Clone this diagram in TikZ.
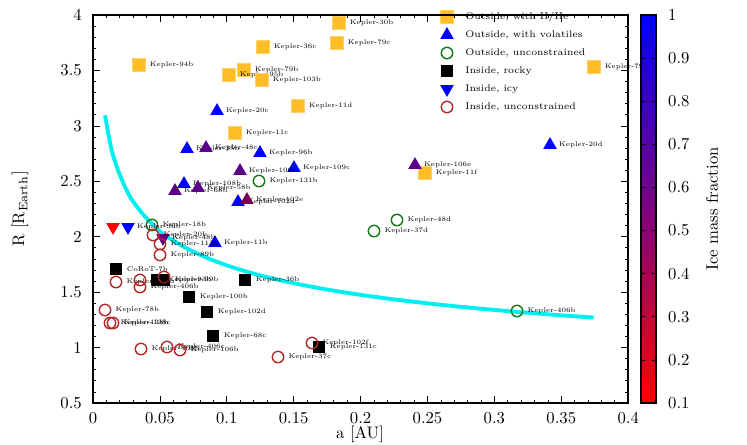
\documentclass[tikz,border=0pt]{standalone}
\usetikzlibrary{shapes.geometric}
\definecolor{hhe}{RGB}{255,190,40}
\definecolor{circr}{RGB}{180,40,40}
\definecolor{grn}{RGB}{20,120,20}
\definecolor{cyanc}{RGB}{0,240,240}
\tikzset{
 sq/.style={rectangle,fill=hhe,draw=hhe!70!white,minimum size=7.2pt,inner sep=0},
 rk/.style={rectangle,fill=black,minimum size=7.2pt,inner sep=0},
 tri/.style={regular polygon,regular polygon sides=3,fill=#1,minimum size=9pt,inner sep=0},
 itri/.style={regular polygon,regular polygon sides=3,shape border rotate=180,fill=#1,minimum size=9pt,inner sep=0},
 gc/.style={circle,draw=grn,thick,minimum size=6.5pt,inner sep=0},
 rc/.style={circle,draw=circr,thick,minimum size=6.5pt,inner sep=0},
 lab/.style={font=\fontsize{3.8}{4}\selectfont,inner sep=0,anchor=west},
 tick/.style={font=\fontsize{9.5}{11}\selectfont},
 leg/.style={font=\fontsize{5.5}{6}\selectfont,anchor=west,inner sep=0}
}
\newcommand\mk[4]{\node[#1] (#2) at (#3) {}; \node[lab] at ([xshift=2.2pt]#2.east) {#4};}
\begin{document}
\begin{tikzpicture}[x=0.02cm,y=-0.02cm]
\useasboundingbox (0,0) rectangle (747,444);
% axes ticks
\foreach \i in {0,...,40}{\pgfmathsetmacro\xx{93+13.38*\i}
  \draw (\xx,403) -- (\xx,400); \draw (\xx,15) -- (\xx,18);}
\foreach \i/\t in {0/0,1/0.05,2/0.1,3/0.15,4/0.2,5/0.25,6/0.3,7/0.35,8/0.4}{\pgfmathsetmacro\xx{93+66.9*\i}
  \draw (\xx,403) -- (\xx,396); \draw (\xx,15) -- (\xx,22);
  \node[tick] at (\xx,418) {\t};}
\foreach \i in {0,...,35}{\pgfmathsetmacro\yy{403-11.086*\i}
  \draw (93,\yy) -- (96,\yy); \draw (628,\yy) -- (625,\yy);}
\foreach \i/\t in {0/0.5,1/1,2/1.5,3/2,4/2.5,5/3,6/3.5,7/4}{\pgfmathsetmacro\yy{403-55.43*\i}
  \draw (93,\yy) -- (100,\yy); \draw (628,\yy) -- (621,\yy);
  \node[tick,anchor=east] at (88,\yy) {\t};}
\node[tick] at (360,434) {a [AU]};
\node[tick,rotate=90] at (20,209) {R [R$_{\mathrm{Earth}}$]};
% curve
\draw[cyanc,line width=2.2pt] plot[domain=0.009:0.375,samples=80,smooth] ({93+1338*\x},{403-110.86*(1.27*(\x/0.375)^(-0.239)-0.5)});
% H/He
\mk{sq}{a1}{339,23}{Kepler-30b}
\mk{sq}{a2}{337,43}{Kepler-79c}
\mk{sq}{a3}{263,47}{Kepler-36c}
\mk{sq}{a4}{139,65}{Kepler-94b}
\mk{sq}{a5}{594,67}{Kepler-79e}
\mk{sq}{a6}{244,70}{Kepler-79b}
\mk{sq}{a7}{229,75}{Kepler-95b}
\mk{sq}{a8}{262,80}{Kepler-103b}
\mk{sq}{a9}{298,106}{Kepler-11d}
\mk{sq}{a10}{235,133}{Kepler-11c}
\mk{sq}{a11}{425,173}{Kepler-11f}
% volatiles
\mk{tri=blue}{b1}{217,111}{Kepler-20c}
\mk{tri=blue}{b2}{260,153}{Kepler-96b}
\mk{tri=blue}{b3}{294,168}{Kepler-109c}
\mk{tri=blue}{b4}{550,145}{Kepler-20d}
\mk{tri=blue}{b5}{187,149}{Kepler-35b}
\mk{tri={blue!60!red!90!black}}{b6}{206,148}{Kepler-48c}
\mk{tri={blue!60!red!90!black}}{b7}{240,171}{Kepler-106c}
\mk{tri={blue!60!red!90!black}}{b8}{415,165}{Kepler-106e}
\mk{tri=blue}{b9}{184,184}{Kepler-108b}
\mk{tri={blue!60!red!90!black}}{b10}{175,191}{Kepler-68b}
\mk{tri={blue!60!red!90!black}}{b11}{198,188}{Kepler-58b}
\mk{tri=blue}{b12}{238,202}{Kepler-102d}
\mk{tri={red!60!blue!80!black}}{b13}{247,200}{Kepler-102e}
\mk{tri=blue}{b14}{215,243}{Kepler-11b}
% unconstrained outside
\mk{gc}{c1}{259,181}{Kepler-131b}
\mk{gc}{c2}{397,220}{Kepler-48d}
\mk{gc}{c3}{374,231}{Kepler-37d}
\mk{gc}{c4}{517,311}{Kepler-406b}
\mk{gc}{c5}{152,225}{Kepler-18b}
% icy inside
\mk{itri=red}{d1}{113,227}{}
\mk{itri=blue}{d2}{128,227}{Kepler-36b}
\mk{itri={blue!60!red!90!black}}{d3}{163,238}{Kepler-48b}
% rocky
\mk{rk}{e1}{116,269}{CoRoT-7b}
\mk{rk}{e2}{157,280}{Kepler-93b}
\mk{rk}{e3}{164,280}{Kepler-99b}
\mk{rk}{e4}{245,280}{Kepler-36b}
\mk{rk}{e5}{189,297}{Kepler-100b}
\mk{rk}{e6}{207,312}{Kepler-102d}
\mk{rk}{e7}{213,336}{Kepler-68c}
\mk{rk}{e8}{319,347}{Kepler-131c}
% unconstrained inside
\mk{rc}{f1}{153,235}{Kepler-20b}
\mk{rc}{f2}{160,244}{Kepler-113b}
\mk{rc}{f3}{160,255}{Kepler-89b}
\mk{rc}{f4}{164,277}{}
\mk{rc}{f5}{116,282}{Kepler-102b}
\mk{rc}{f6}{140,280}{}
\mk{rc}{f7}{140,287}{Kepler-406b}
\mk{rc}{f8}{105,310}{Kepler-78b}
\mk{rc}{f9}{110,323}{Kepler-138b}
\mk{rc}{f10}{113,323}{Kepler-138c}
\mk{rc}{f11}{141,349}{Kepler-408b}
\mk{rc}{f12}{167,347}{Kepler-406c}
\mk{rc}{f13}{180,350}{Kepler-106b}
\mk{rc}{f14}{278,357}{Kepler-37c}
\mk{rc}{f15}{312,343}{Kepler-102f}
% legend
\node[sq] (l1) at (447,17) {}; \node[leg] at (465,17) {Outside, with H/He};
\node[tri=blue] (l2) at (447,35) {}; \node[leg] at (465,35) {Outside, with volatiles};
\node[gc] (l3) at (447,53) {}; \node[leg] at (465,53) {Outside, unconstrained};
\node[rk] (l4) at (447,71) {}; \node[leg] at (465,71) {Inside, rocky};
\node[itri=blue] (l5) at (447,89) {}; \node[leg] at (465,89) {Inside, icy};
\node[rc] (l6) at (447,107) {}; \node[leg] at (465,107) {Inside, unconstrained};
% frame
\draw[line width=0.8pt] (93,15) rectangle (628,403);
% colorbar
\shade[bottom color=red,top color=blue] (641,15) rectangle (656,403);
\draw[line width=0.6pt] (641,15) rectangle (656,403);
\foreach \i/\t in {0/0.1,1/0.2,2/0.3,3/0.4,4/0.5,5/0.6,6/0.7,7/0.8,8/0.9,9/1}{\pgfmathsetmacro\yy{403-43.11*\i}
  \draw (641,\yy) -- (645,\yy); \draw (656,\yy) -- (652,\yy);
  \node[tick,anchor=west] at (662,\yy) {\t};}
\node[tick,rotate=90] at (712,209) {Ice mass fraction};
\end{tikzpicture}
\end{document}
